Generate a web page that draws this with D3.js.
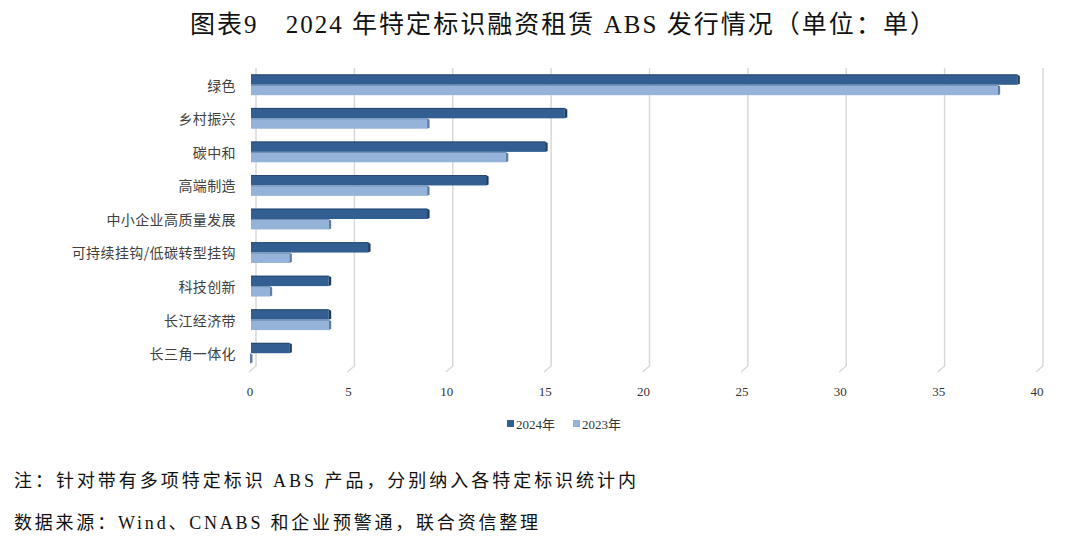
<!DOCTYPE html>
<html><head><meta charset="utf-8">
<script src="https://cdn.jsdelivr.net/npm/d3@7"></script>
<style>body{margin:0;background:#fff}svg{display:block}</style>
</head><body>
<svg id="c" width="1080" height="540"></svg>
<script>
const categories = ["绿色","乡村振兴","碳中和","高端制造","中小企业高质量发展","可持续挂钩/低碳转型挂钩","科技创新","长江经济带","长三角一体化"];
const series2024 = [39,16,15,12,9,6,4,4,2];
const series2023 = [38,9,13,9,4,2,1,4,0];
const seriesNames = ["2024年","2023年"];
const xTicks = [0,5,10,15,20,25,30,35,40];
const titleText = "图表9　2024 年特定标识融资租赁 ABS 发行情况（单位：单）";
const note1 = "注：针对带有多项特定标识 ABS 产品，分别纳入各特定标识统计内";
const note2 = "数据来源：Wind、CNABS 和企业预警通，联合资信整理";

(function(){
const colors = ["#335e91","#95b3d9"];
const sideColors = ["#1f3d63","#5f7ea6"];
const svg = d3.select("#c");
const serif = "'Liberation Serif','Noto Sans CJK SC',serif";
const sans = "'Noto Sans CJK SC','Liberation Sans',sans-serif";

svg.append("text").attr("x",190).attr("y",33)
  .attr("textLength",745).attr("lengthAdjust","spacing")
  .attr("font-family",serif).attr("font-size",25).attr("fill","#111").text(titleText);

const x = d3.scaleLinear().domain([0,40]).range([250,1037]);
const y = d3.scaleBand().domain(categories).range([68,370]).paddingInner(0.38).paddingOuter(0.19);
const sub = d3.scaleBand().domain([0,1]).range([0,y.bandwidth()]);
const depth = 6, floorY = 372, topY = 68;

const g = svg.append("g");
g.selectAll("path.grid").data(xTicks).join("path")
  .attr("d", d => `M${x(d)+depth},${topY} L${x(d)+depth},${floorY-6} L${x(d)-1},${floorY}`)
  .attr("fill","none").attr("stroke","#d9d9d9").attr("stroke-width",1.5);

const data = categories.map((c,i)=>({c, v:[series2024[i],series2023[i]]}));
data.forEach(d=>{
  d.v.forEach((v,k)=>{
    const y0 = y(d.c)+sub(k), h = sub.bandwidth();
    const x0 = x(0)+1, x1 = x(v);
    if (v>0) {
      g.append("rect").attr("x",x0).attr("y",y0).attr("width",Math.max(0,x1-x0)).attr("height",h)
        .attr("fill",colors[k]);
      g.append("line").attr("x1",x0).attr("x2",x1).attr("y1",y0+0.5).attr("y2",y0+0.5)
        .attr("stroke",sideColors[k]).attr("stroke-width",1).attr("opacity",0.7);
    }
    g.append("path").attr("d",`M${x1},${y0} L${x1+2.5},${y0+1.5} L${x1+2.5},${y0+h-1} L${x1},${y0+h}Z`)
      .attr("fill",sideColors[k]);
  });
});

svg.append("g").selectAll("text").data(categories).join("text")
  .attr("x",236).attr("y",d=>y(d)+y.bandwidth()/2+1).attr("dy","0.35em")
  .attr("text-anchor","end").attr("font-family",sans).attr("font-size",14)
  .attr("letter-spacing",0.4).attr("fill","#404040").text(d=>d);

svg.append("g").selectAll("text").data(xTicks).join("text")
  .attr("x",d=>x(d)).attr("y",391).attr("dy","0.35em").attr("text-anchor","middle")
  .attr("font-family",serif).attr("font-size",13).attr("fill","#333").text(d=>d);

const leg = svg.append("g");
const lx = [507, 573];
seriesNames.forEach((n,k)=>{
  leg.append("rect").attr("x",lx[k]).attr("y",420).attr("width",7).attr("height",7).attr("fill",colors[k]);
  leg.append("text").attr("x",lx[k]+9).attr("y",424).attr("dy","0.35em")
    .attr("font-family",serif).attr("font-size",13).attr("fill","#333").text(n);
});

svg.append("text").attr("x",14).attr("y",487).attr("textLength",622).attr("lengthAdjust","spacing")
  .attr("font-family",serif).attr("font-size",18).attr("fill","#111").text(note1);
svg.append("text").attr("x",14).attr("y",529).attr("textLength",524).attr("lengthAdjust","spacing")
  .attr("font-family",serif).attr("font-size",18).attr("fill","#111").text(note2);
})();
</script>
</body></html>
